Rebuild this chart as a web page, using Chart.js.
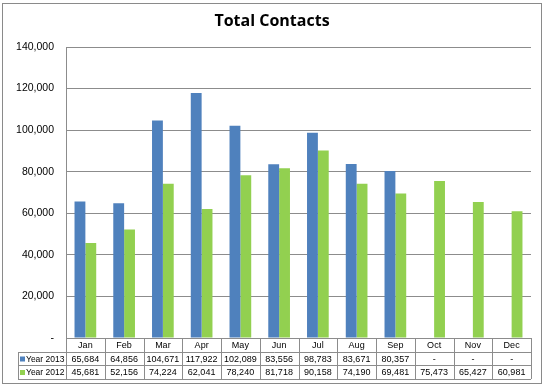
<!DOCTYPE html>
<html>
<head>
<meta charset="utf-8">
<script src="https://cdn.jsdelivr.net/npm/chart.js@4"></script>
<style>
html,body{margin:0;padding:0;background:#fff;}
#wrap{width:546px;height:387px;position:relative;}
</style>
</head>
<body>
<div id="wrap"><canvas id="c" width="546" height="387"></canvas></div>
<script>
const months = ['Jan','Feb','Mar','Apr','May','Jun','Jul','Aug','Sep','Oct','Nov','Dec'];
const year2013 = [65684, 64856, 104671, 117922, 102089, 83556, 98783, 83671, 80357, null, null, null];
const year2012 = [45681, 52156, 74224, 62041, 78240, 81718, 90158, 74190, 69481, 75473, 65427, 60981];
const seriesNames = ['Year 2013', 'Year 2012'];
const yTicks = [0, 20000, 40000, 60000, 80000, 100000, 120000, 140000];

const BLUE = '#4F81BD';
const GREEN = '#92D050';
const LINE = '#8c8c8c';
const fmt = v => v === null || v === undefined ? '-' : v.toLocaleString('en-US');

const tablePlugin = {
  id: 'tablePlugin',
  afterDraw(chart) {
    const ctx = chart.ctx;
    const x = chart.scales.x;
    const area = chart.chartArea;
    const n = months.length;
    const cw = (area.right - area.left) / n;
    const y0 = area.bottom, y1 = y0 + 14, y2 = y1 + 13, y3 = y2 + 14;
    const legL = 18;
    ctx.save();
    ctx.strokeStyle = '#8a8a8a';
    ctx.lineWidth = 1;
    ctx.strokeRect(2.5, 3.5, 539, 380);
    ctx.fillStyle = '#000';
    ctx.font = 'bold 16px "Open Sans", "Liberation Sans", sans-serif';
    ctx.textAlign = 'center';
    ctx.textBaseline = 'middle';
    ctx.fillText('Total Contacts', 272, 21);
    ctx.strokeStyle = LINE;
    ctx.beginPath();
    ctx.moveTo(area.left, y0 + 0.5); ctx.lineTo(area.right, y0 + 0.5);
    [y1, y2, y3].forEach(yy => { ctx.moveTo(legL, yy + 0.5); ctx.lineTo(area.right, yy + 0.5); });
    ctx.moveTo(legL + 0.5, y1); ctx.lineTo(legL + 0.5, y3);
    for (let i = 0; i <= n; i++) {
      const xx = Math.round(area.left + i * cw) + 0.5;
      ctx.moveTo(xx, y0); ctx.lineTo(xx, y3);
    }
    ctx.stroke();
    ctx.fillStyle = '#000';
    ctx.font = '9px "Liberation Sans", sans-serif';
    ctx.textAlign = 'center';
    ctx.textBaseline = 'middle';
    months.forEach((m, i) => {
      const cx = x.getPixelForValue(i);
      ctx.fillText(m, cx, (y0 + y1) / 2 + 1);
      ctx.fillText(fmt(year2013[i]), cx, (y1 + y2) / 2 + 1);
      ctx.fillText(fmt(year2012[i]), cx, (y2 + y3) / 2 + 1);
    });
    const rows = [[y1, y2, BLUE, seriesNames[0]], [y2, y3, GREEN, seriesNames[1]]];
    ctx.font = '8.5px "Liberation Sans", sans-serif';
    rows.forEach(([a, b, col, name]) => {
      const cy = (a + b) / 2 + 1;
      ctx.fillStyle = col;
      ctx.fillRect(20, cy - 3, 5, 5);
      ctx.fillStyle = '#000';
      ctx.textAlign = 'left';
      ctx.fillText(name, 26, cy);
    });
    ctx.restore();
  }
};

new Chart(document.getElementById('c'), {
  type: 'bar',
  data: {
    labels: months,
    datasets: [
      { label: seriesNames[0], data: year2013, backgroundColor: BLUE, categoryPercentage: 0.56, barPercentage: 1.0 },
      { label: seriesNames[1], data: year2012, backgroundColor: GREEN, categoryPercentage: 0.56, barPercentage: 1.0 }
    ]
  },
  options: {
    responsive: false,
    animation: false,
    devicePixelRatio: 1,
    layout: { padding: { left: 0, right: 15, top: 47, bottom: 49 } },
    plugins: { legend: { display: false }, title: { display: false }, tooltip: { enabled: false } },
    scales: {
      x: {
        grid: { display: false },
        border: { display: false },
        ticks: { display: false },
        afterFit(s) { s.height = 0; }
      },
      y: {
        min: 0, max: 140000,
        afterBuildTicks(s) { s.ticks = yTicks.map(v => ({ value: v })); },
        afterFit(s) { s.width = 66; },
        grid: { color: LINE, drawTicks: false },
        border: { display: true, color: LINE },
        ticks: {
          padding: 12,
          color: '#000',
          font: { size: 10.5, family: '"Liberation Sans", sans-serif' },
          callback: v => v === 0 ? '-' : v.toLocaleString('en-US')
        }
      }
    }
  },
  plugins: [tablePlugin]
});
</script>
</body>
</html>
